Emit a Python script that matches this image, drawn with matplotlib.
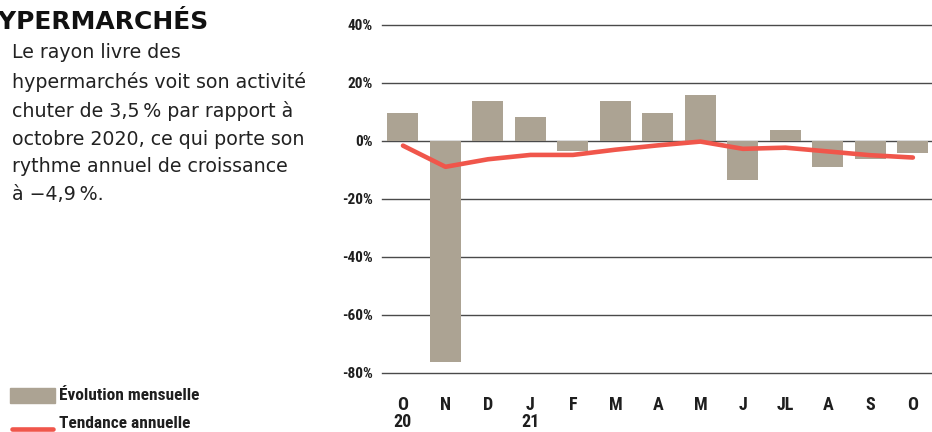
import matplotlib
matplotlib.use("Agg")
import matplotlib.pyplot as plt
from matplotlib import font_manager as fm
from matplotlib.patches import Rectangle
from matplotlib.lines import Line2D

months = ["O", "N", "D", "J", "F", "M", "A", "M", "J", "JL", "A", "S", "O"]
years = {0: "20", 3: "21"}
monthly = [9.5, -76.1, 13.9, 8.3, -3.3, 13.8, 9.7, 15.9, -13.3, 3.8, -8.9, -6.1, -4.3]
trend = [-1.6, -8.9, -6.3, -4.8, -4.8, -3.0, -1.5, -0.2, -2.7, -2.3, -3.6, -4.9, -5.7]
yticks = [40, 20, 0, -20, -40, -60, -80]
title = "HYPERMARCHÉS"
body = ("Le rayon livre des\nhypermarchés voit son activité\nchuter de 3,5\u202f% par rapport à\n"
        "octobre 2020, ce qui porte son\nrythme annuel de croissance\nà \u22124,9\u202f%.")
legend_labels = ["Évolution mensuelle", "Tendance annuelle"]

available = {f.name for f in fm.fontManager.ttflist}
def pick(*names):
    for n in names:
        if n in available:
            return n
    return "DejaVu Sans"

cond = pick("Liberation Sans Narrow", "Roboto Condensed", "Roboto")

BAR = "#aca393"
RED = "#f0564b"
GRID = "#4a4a4a"
TXT = "#1e1e1e"

W, H = 932, 432
fig = plt.figure(figsize=(W / 100, H / 100), dpi=100)

def fx(px):
    return px / W
def fy(py):
    return 1 - py / H

ax = fig.add_axes([fx(382), fy(373), fx(932) - fx(382), fy(25) - fy(373)])
ax.set_xlim(-0.494, 12.45)
ax.set_ylim(-80, 40)
for v in yticks:
    ax.axhline(v, color=GRID, lw=1.0, zorder=1, clip_on=False)
x = list(range(len(months)))
ax.bar(x, monthly, width=0.73, color=BAR, zorder=2)
ax.plot(x, trend, color=RED, lw=3.3, solid_capstyle="round", solid_joinstyle="round", zorder=3)
for s in ax.spines.values():
    s.set_visible(False)
ax.set_yticks(yticks)
ax.set_yticklabels([f"{v}%" for v in yticks], fontfamily=cond,
                   fontweight="bold", fontsize=11, color=TXT)
ax.tick_params(axis="y", length=0, pad=6.5)
ax.set_xticks([])
for i, m in enumerate(months):
    ax.text(i, -91.0, m, ha="center", va="center", fontfamily=cond, fontweight="bold",
            fontsize=13, color=TXT, clip_on=False)
for i, yv in years.items():
    ax.text(i, -96.9, yv, ha="center", va="center", fontfamily=cond, fontweight="bold",
            fontsize=13, color=TXT, clip_on=False)

# title: first letter falls just outside the left edge, as in the reference
t = fig.text(0, fy(22), title, ha="left", va="center", fontfamily="DejaVu Sans",
             fontweight="bold", fontsize=18, color="#111111")
probe = fig.text(0, 0, title[0], fontfamily="DejaVu Sans", fontweight="bold", fontsize=18)
fig.canvas.draw()
r = fig.canvas.get_renderer()
hw = probe.get_window_extent(r).width
probe.remove()
t.set_x(-(hw + 1) / W)

fig.text(fx(12), fy(43.5), body, ha="left", va="top", fontfamily="DejaVu Sans",
         fontsize=13.7, color="#222222", linespacing=1.575)

fig.patches.append(Rectangle((fx(10), fy(403)), fx(55) - fx(10), fy(388) - fy(403),
                             transform=fig.transFigure, color=BAR))
fig.text(fx(59), fy(396), legend_labels[0], ha="left", va="center", fontfamily=cond,
         fontweight="bold", fontsize=12.5, color=TXT)
fig.lines.append(Line2D([fx(12), fx(53)], [fy(428.5), fy(428.5)], transform=fig.transFigure,
                        color=RED, lw=3.3, solid_capstyle="round"))
fig.text(fx(59), fy(423.5), legend_labels[1], ha="left", va="center", fontfamily=cond,
         fontweight="bold", fontsize=12.5, color=TXT)

fig.savefig("out.png", dpi=100)
